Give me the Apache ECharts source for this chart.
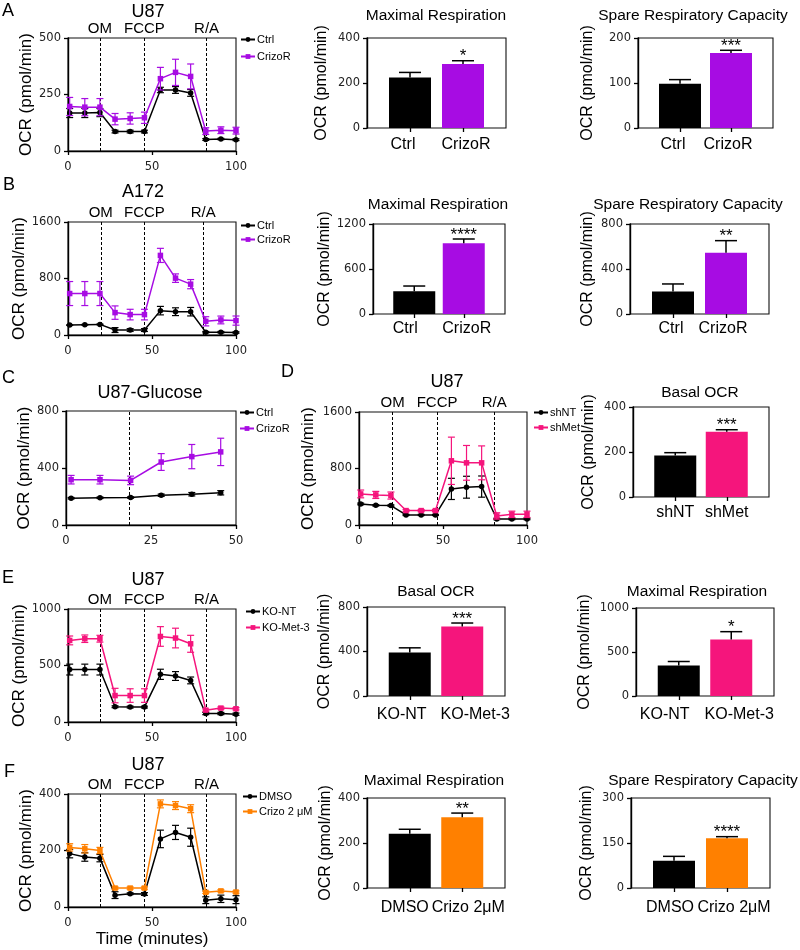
<!DOCTYPE html>
<html><head><meta charset="utf-8">
<script src="https://cdn.jsdelivr.net/npm/echarts@6/dist/echarts.min.js"></script>
<style>html,body{margin:0;padding:0;background:#fff}#c{width:800px;height:950px}</style>
</head><body><div id="c"></div>
<script>
// ---------------- data ----------------
const timeSeahorse = [1, 10, 19, 28, 37, 45.5, 55, 64, 73, 82, 91, 100];
const timeGlucose = [1.5, 10, 19, 28, 37, 45.5];
const injectionLabels = ['OM', 'FCCP', 'R/A'];
const injA = [19, 45.5, 82.5];
const injB = [19.5, 45.5, 80.5];
const injC = [18.5];
const injD = [20, 46.5, 80.5];
const injE = [19, 45.5, 82.5];
const injF = [19, 45.5, 82.5];

// A  U87
const A_ctrl = [168, 168, 170, 86, 86, 86, 270, 270, 257, 51, 53, 50];
const A_ctrlErr = [20, 20, 18, 6, 6, 6, 12, 15, 15, 4, 3, 4];
const A_crizo = [197, 194, 194, 141, 144, 147, 320, 348, 330, 88, 92, 90];
const A_crizoErr = [40, 38, 38, 25, 25, 25, 50, 58, 55, 15, 15, 15];
// B  A172
const B_ctrl = [140, 145, 150, 70, 70, 70, 345, 330, 330, 40, 40, 35];
const B_ctrlErr = [5, 5, 5, 35, 20, 20, 60, 55, 60, 10, 10, 10];
const B_crizo = [587, 587, 587, 317, 289, 289, 1127, 805, 720, 194, 213, 204];
const B_crizoErr = [170, 170, 170, 95, 75, 75, 100, 60, 65, 65, 55, 65];
// C  U87-Glucose
const C_ctrl = [188, 191, 193, 209, 216, 226];
const C_ctrlErr = [5, 5, 5, 8, 12, 15];
const C_crizo = [318, 318, 313, 442, 480, 513];
const C_crizoErr = [30, 30, 30, 59, 85, 96];
// D  U87 shRNA
const D_shNT = [298, 279, 275, 142, 142, 142, 511, 535, 544, 85, 85, 85];
const D_shNTErr = [12, 10, 10, 8, 8, 8, 150, 155, 150, 10, 10, 10];
const D_shMet = [440, 426, 417, 204, 204, 204, 909, 880, 880, 128, 151, 151];
const D_shMetErr = [55, 50, 50, 15, 15, 15, 335, 246, 240, 45, 45, 45];
// E  U87 KO
const E_koNT = [464, 464, 464, 135, 132, 132, 422, 407, 368, 75, 75, 69];
const E_koNTErr = [48, 48, 48, 8, 8, 8, 45, 39, 30, 10, 10, 10];
const E_koMet = [722, 737, 737, 234, 234, 234, 757, 743, 692, 105, 123, 117];
const E_koMetErr = [39, 33, 30, 64, 60, 60, 87, 87, 75, 10, 10, 10];
// F  U87 crizotinib
const F_dmso = [189, 177, 173, 42, 47, 46, 241, 264, 247, 24, 29, 26];
const F_dmsoErr = [15, 15, 13, 12, 3, 5, 31, 25, 32, 12, 13, 14];
const F_crizo = [211, 206, 200, 67, 67, 67, 365, 359, 348, 52, 57, 53];
const F_crizoErr = [13, 15, 11, 4, 4, 4, 14, 14, 14, 4, 4, 4];

// bar panels
const catCtrl = ['Ctrl', 'CrizoR'];
const catSh = ['shNT', 'shMet'];
const catKO = ['KO-NT', 'KO-Met-3'];
const catDrug = ['DMSO', 'Crizo 2μM'];
const A_MR = [225, 284], A_MRErr = [22, 15], A_MRSig = ['', '*'];
const A_SRC = [98.5, 166.7], A_SRCErr = [9, 6], A_SRCSig = ['', '***'];
const B_MR = [302, 942], B_MRErr = [71, 58], B_MRSig = ['', '****'];
const B_SRC = [201, 545], B_SRCErr = [66, 107], B_SRCSig = ['', '**'];
const D_Basal = [184, 290], D_BasalErr = [13, 9], D_BasalSig = ['', '***'];
const E_Basal = [391, 625], E_BasalErr = [42, 31], E_BasalSig = ['', '***'];
const E_MR = [347, 642], E_MRErr = [45, 89], E_MRSig = ['', '*'];
const F_MR = [241, 314], F_MRErr = [20, 19], F_MRSig = ['', '**'];
const F_SRC = [91, 165.6], F_SRCErr = [14.5, 5.5], F_SRCSig = ['', '****'];

// ---------------- style ----------------
const FONT = '"Liberation Sans", Arial, Helvetica, sans-serif';
const NUMFONT = '"DejaVu Sans", "Liberation Sans", sans-serif';
const BLACK = '#000000', PURPLE = '#a70ce3', PINK = '#f5157c', ORANGE = '#ff8000';
const YNAME = 'OCR (pmol/min)';
const INSET = 16.5;

const grid = [], xAxis = [], yAxis = [], series = [], legend = [], graphic = [];
const axisLineS = {show: true, lineStyle: {color: '#000', width: 1.4}};
const axisTickS = {show: true, length: 4, lineStyle: {color: '#000', width: 1.3}};
const numLabel = (margin) => ({fontFamily: NUMFONT, fontSize: 11.5, color: '#222', margin: margin,
  formatter: v => String(v)});

function addGrid(r, border) {
  grid.push({left: r[0], top: r[1], width: r[2], height: r[3], show: border,
    borderColor: '#111', borderWidth: border ? 1.1 : 0, backgroundColor: 'transparent'});
  return grid.length - 1;
}

function lineErr(color) {
  return function (params, api) {
    const t = api.value(0), m = api.value(1), e = api.value(2);
    const lo = api.coord([t, m - e]), hi = api.coord([t, m + e]);
    const hw = 3.5, st = {stroke: color, lineWidth: 1.2, fill: null};
    return {type: 'group', children: [
      {type: 'line', shape: {x1: lo[0], y1: lo[1], x2: hi[0], y2: hi[1]}, style: st},
      {type: 'line', shape: {x1: lo[0] - hw, y1: lo[1], x2: lo[0] + hw, y2: lo[1]}, style: st},
      {type: 'line', shape: {x1: hi[0] - hw, y1: hi[1], x2: hi[0] + hw, y2: hi[1]}, style: st}
    ]};
  };
}

function barErr(sig) {
  return function (params, api) {
    const x = api.value(0), m = api.value(1), e = api.value(2);
    const p0 = api.coord([x, m]), p1 = api.coord([x, m + e]);
    const hw = 11, st = {stroke: '#000', lineWidth: 1.5, fill: null};
    const ch = [
      {type: 'line', shape: {x1: p0[0], y1: p0[1], x2: p1[0], y2: p1[1]}, style: st},
      {type: 'line', shape: {x1: p1[0] - hw, y1: p1[1], x2: p1[0] + hw, y2: p1[1]}, style: st}
    ];
    const s = sig[params.dataIndex];
    if (s) ch.push({type: 'text', x: p1[0], y: p1[1] - 4,
      style: {text: s, fill: '#000', font: '17px ' + FONT, align: 'center', verticalAlign: 'middle',
        textAlign: 'center', textVerticalAlign: 'middle'}});
    return {type: 'group', children: ch};
  };
}

function lineChart(o) {
  const gi = addGrid(o.rect, true);
  xAxis.push({gridIndex: gi, type: 'value', min: 0, max: o.xMax, interval: o.xInt,
    axisLine: axisLineS, axisTick: axisTickS, splitLine: {show: false},
    axisLabel: numLabel(10),
    name: o.xName || '', nameLocation: 'middle', nameGap: 24,
    nameTextStyle: {fontFamily: FONT, fontSize: 17, color: '#000'}});
  const xi = xAxis.length - 1;
  yAxis.push({gridIndex: gi, type: 'value', min: 0, max: o.yMax, interval: o.yInt,
    axisLine: axisLineS, axisTick: axisTickS, splitLine: {show: false},
    axisLabel: numLabel(7),
    name: YNAME, nameLocation: 'middle', nameGap: o.nameGap,
    nameTextStyle: {fontFamily: FONT, fontSize: 17, color: '#000'}});
  const yi = yAxis.length - 1;
  o.groups.forEach((g, k) => {
    const s = {type: 'line', name: g.name, xAxisIndex: xi, yAxisIndex: yi,
      data: o.times.map((t, i) => [t, g.values[i]]),
      symbol: g.symbol, symbolSize: 5.5, showAllSymbol: true,
      itemStyle: {color: g.color}, lineStyle: {color: g.color, width: 1.5}, z: 3 + k * 2, silent: true};
    if (k === 0) {
      s.markLine = {silent: true, symbol: ['none', 'none'],
        lineStyle: {type: [3, 2], color: '#000', width: 1},
        label: {show: !!o.dashLabels, position: 'end', distance: 2, fontFamily: FONT, fontSize: 15, color: '#000'},
        data: o.dashes.map((d, i) => ({xAxis: d, label: {formatter: o.dashLabels ? o.dashLabels[i] : ''}}))};
    }
    series.push(s);
    series.push({type: 'custom', xAxisIndex: xi, yAxisIndex: yi, clip: false,
      data: o.times.map((t, i) => [t, g.values[i], g.errs[i]]),
      renderItem: lineErr(g.color), z: 3 + k * 2, silent: true});
  });
  legend.push({orient: 'vertical', left: o.legendPos[0], top: o.legendPos[1], padding: 0, itemGap: o.legendGap,
    itemWidth: 14, itemHeight: 6, selectedMode: false, data: o.groups.map(g => g.name),
    textStyle: {fontFamily: FONT, fontSize: 11, color: '#000', padding: [0, 0, 0, -3]}});
}

function barChart(o) {
  const outer = addGrid(o.rect, true);
  xAxis.push({gridIndex: outer, type: 'value', min: 0, max: 1, show: false});
  yAxis.push({gridIndex: outer, type: 'value', min: 0, max: o.yMax, interval: o.yInt,
    axisLine: axisLineS, axisTick: axisTickS, splitLine: {show: false},
    axisLabel: numLabel(7),
    name: YNAME, nameLocation: 'middle', nameGap: o.nameGap,
    nameTextStyle: {fontFamily: FONT, fontSize: 16, color: '#000'}});
  const inner = addGrid([o.rect[0] + INSET, o.rect[1], o.rect[2] - 2 * INSET, o.rect[3]], false);
  const sh = o.labelShift;
  const pad = (d) => d < 0 ? [0, -2 * d, 0, 0] : [0, 0, 0, 2 * d];
  xAxis.push({gridIndex: inner, type: 'category', data: o.categories, boundaryGap: true,
    axisLine: {show: false}, axisTick: Object.assign({alignWithLabel: true}, axisTickS),
    axisLabel: {fontFamily: FONT, fontSize: 16, color: '#000', margin: o.labelMargin, interval: 0,
      formatter: (v, i) => (i === 0 ? '{a|' : '{b|') + v + '}',
      rich: {a: {fontFamily: FONT, fontSize: 16, color: '#000', padding: pad(sh[0])},
             b: {fontFamily: FONT, fontSize: 16, color: '#000', padding: pad(sh[1])}}}});
  const xi = xAxis.length - 1;
  yAxis.push({gridIndex: inner, type: 'value', min: 0, max: o.yMax, show: false});
  const yi = yAxis.length - 1;
  series.push({type: 'bar', xAxisIndex: xi, yAxisIndex: yi, barWidth: 42, silent: true,
    data: o.values.map((v, i) => ({value: v, itemStyle: {color: o.colors[i]}}))});
  series.push({type: 'custom', xAxisIndex: xi, yAxisIndex: yi, clip: false, silent: true, z: 5,
    data: o.values.map((v, i) => [i, v, o.errs[i]]), renderItem: barErr(o.sig)});
}

function txt(s, x, y, size, align) {
  graphic.push({type: 'text', x: x, y: y, silent: true,
    style: {text: s, fill: '#000', font: size + 'px ' + FONT, align: align || 'center', verticalAlign: 'middle',
      textAlign: align || 'center', textVerticalAlign: 'middle'}});
}

// ---------------- panels ----------------
lineChart({rect: [68, 38, 168, 113], xMax: 100, xInt: 50, yMax: 500, yInt: 250, nameGap: 33,
  times: timeSeahorse, dashes: injA, dashLabels: injectionLabels, legendPos: [240, 34], legendGap: 6,
  groups: [{name: 'Ctrl', values: A_ctrl, errs: A_ctrlErr, color: BLACK, symbol: 'circle'},
           {name: 'CrizoR', values: A_crizo, errs: A_crizoErr, color: PURPLE, symbol: 'rect'}]});
lineChart({rect: [68, 222, 168, 113], xMax: 100, xInt: 50, yMax: 1600, yInt: 800, nameGap: 31,
  times: timeSeahorse, dashes: injB, dashLabels: injectionLabels, legendPos: [240, 220], legendGap: 3,
  groups: [{name: 'Ctrl', values: B_ctrl, errs: B_ctrlErr, color: BLACK, symbol: 'circle'},
           {name: 'CrizoR', values: B_crizo, errs: B_crizoErr, color: PURPLE, symbol: 'rect'}]});
lineChart({rect: [66, 411, 170, 114], xMax: 50, xInt: 25, yMax: 800, yInt: 400, nameGap: 32,
  times: timeGlucose, dashes: injC, dashLabels: null, legendPos: [239, 407], legendGap: 5,
  groups: [{name: 'Ctrl', values: C_ctrl, errs: C_ctrlErr, color: BLACK, symbol: 'circle'},
           {name: 'CrizoR', values: C_crizo, errs: C_crizoErr, color: PURPLE, symbol: 'rect'}]});
lineChart({rect: [359, 412, 168, 113], xMax: 100, xInt: 50, yMax: 1600, yInt: 800, nameGap: 42,
  times: timeSeahorse, dashes: injD, dashLabels: injectionLabels, legendPos: [533, 407], legendGap: 4,
  groups: [{name: 'shNT', values: D_shNT, errs: D_shNTErr, color: BLACK, symbol: 'circle'},
           {name: 'shMet', values: D_shMet, errs: D_shMetErr, color: PINK, symbol: 'rect'}]});
lineChart({rect: [68, 609, 168, 113], xMax: 100, xInt: 50, yMax: 1000, yInt: 500, nameGap: 32,
  times: timeSeahorse, dashes: injE, dashLabels: injectionLabels, legendPos: [245, 606], legendGap: 5,
  groups: [{name: 'KO-NT', values: E_koNT, errs: E_koNTErr, color: BLACK, symbol: 'circle'},
           {name: 'KO-Met-3', values: E_koMet, errs: E_koMetErr, color: PINK, symbol: 'rect'}]});
lineChart({rect: [68, 794, 168, 113], xMax: 100, xInt: 50, yMax: 400, yInt: 200, nameGap: 32,
  times: timeSeahorse, dashes: injF, dashLabels: injectionLabels, legendPos: [242, 791], legendGap: 4, xName: 'Time (minutes)',
  groups: [{name: 'DMSO', values: F_dmso, errs: F_dmsoErr, color: BLACK, symbol: 'circle'},
           {name: 'Crizo 2 μM', values: F_crizo, errs: F_crizoErr, color: ORANGE, symbol: 'rect'}]});

barChart({rect: [367, 38, 139, 90], yMax: 400, yInt: 200, nameGap: 37, categories: catCtrl,
  labelShift: [-7, 3], labelMargin: 9,
  values: A_MR, errs: A_MRErr, sig: A_MRSig, colors: [BLACK, PURPLE]});
barChart({rect: [638, 38, 135, 90], yMax: 200, yInt: 100, nameGap: 42, categories: catCtrl,
  labelShift: [-7, -3], labelMargin: 9,
  values: A_SRC, errs: A_SRCErr, sig: A_SRCSig, colors: [BLACK, PURPLE]});
barChart({rect: [373, 224, 132, 90], yMax: 1200, yInt: 600, nameGap: 39, categories: catCtrl,
  labelShift: [-9, 3], labelMargin: 7,
  values: B_MR, errs: B_MRErr, sig: B_MRSig, colors: [BLACK, PURPLE]});
barChart({rect: [630, 224, 139, 90], yMax: 800, yInt: 400, nameGap: 34, categories: catCtrl,
  labelShift: [-2, -3], labelMargin: 7,
  values: B_SRC, errs: B_SRCErr, sig: B_SRCSig, colors: [BLACK, PURPLE]});
barChart({rect: [633, 407, 136, 90], yMax: 400, yInt: 200, nameGap: 36, categories: catSh,
  labelShift: [0, 0], labelMargin: 8,
  values: D_Basal, errs: D_BasalErr, sig: D_BasalSig, colors: [BLACK, PINK]});
barChart({rect: [367, 607, 138, 89], yMax: 800, yInt: 400, nameGap: 34, categories: catKO,
  labelShift: [-8, 13], labelMargin: 11,
  values: E_Basal, errs: E_BasalErr, sig: E_BasalSig, colors: [BLACK, PINK]});
barChart({rect: [636, 608, 138, 88], yMax: 1000, yInt: 500, nameGap: 43, categories: catKO,
  labelShift: [-14, 8], labelMargin: 11,
  values: E_MR, errs: E_MRErr, sig: E_MRSig, colors: [BLACK, PINK]});
barChart({rect: [367, 798, 138, 90], yMax: 400, yInt: 200, nameGap: 33, categories: catDrug,
  labelShift: [-5, 6], labelMargin: 12,
  values: F_MR, errs: F_MRErr, sig: F_MRSig, colors: [BLACK, ORANGE]});
barChart({rect: [631, 798, 139, 90], yMax: 300, yInt: 150, nameGap: 36, categories: catDrug,
  labelShift: [-4, 7], labelMargin: 12,
  values: F_SRC, errs: F_SRCErr, sig: F_SRCSig, colors: [BLACK, ORANGE]});

// titles and panel letters
txt('A', 2, 11, 18, 'left'); txt('B', 3, 185, 18, 'left'); txt('C', 2, 378, 18, 'left');
txt('D', 281, 372, 18, 'left'); txt('E', 2, 578, 18, 'left'); txt('F', 4, 772, 18, 'left');
txt('U87', 148, 12, 18); txt('Maximal Respiration', 436, 16, 15.5); txt('Spare Respiratory Capacity', 693, 16, 15.5);
txt('A172', 143, 192, 18); txt('Maximal Respiration', 438, 205, 15.5); txt('Spare Respiratory Capacity', 688, 205, 15.5);
txt('U87-Glucose', 150, 393, 18);
txt('U87', 447, 382, 18); txt('Basal OCR', 700, 393, 15.5);
txt('U87', 148, 580, 18); txt('Basal OCR', 436, 592, 15.5); txt('Maximal Respiration', 697, 592, 15.5);
txt('U87', 148, 765, 18); txt('Maximal Respiration', 434, 781, 15.5); txt('Spare Respiratory Capacity', 703, 781, 15.5);

const chart = echarts.init(document.getElementById('c'), null, {renderer: 'canvas'});
chart.setOption({animation: false, backgroundColor: '#fff', grid, xAxis, yAxis, series, legend, graphic});
</script></body></html>
